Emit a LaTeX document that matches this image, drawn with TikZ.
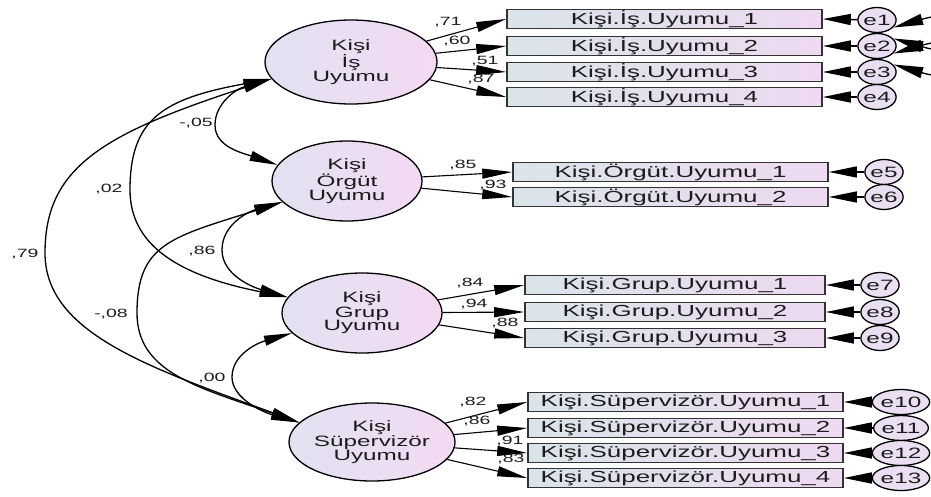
\documentclass[tikz,border=0pt]{standalone}
\usepackage{fontspec}
\setmainfont{Liberation Sans}[FakeStretch=1.62]
\usetikzlibrary{arrows.meta,shapes.geometric}
\definecolor{ellL}{HTML}{E2E1F2}
\definecolor{ellR}{HTML}{F3DAF3}
\definecolor{boxL}{HTML}{DAE4E9}
\definecolor{boxR}{HTML}{EEDAF1}
\definecolor{txt}{HTML}{1C1C1C}
\tikzset{
 latent/.style={ellipse, draw=black, line width=1.3pt, left color=ellL, right color=ellR,
   inner sep=0pt, align=center, font=\fontsize{15}{13.5}\selectfont, text=txt},
 ind/.style={rectangle, draw=black!80, line width=1.6pt, left color=boxL, right color=boxR,
   minimum height=19pt, inner sep=0pt, font=\fontsize{16}{17}\selectfont, text=txt},
 err/.style={ellipse, draw=black, line width=1.3pt, fill=ellL!50!ellR, minimum width=35pt,
   minimum height=25pt, inner sep=0pt, font=\fontsize{15}{15}\selectfont, text=txt},
 load/.style={-{Triangle[length=30pt,width=10pt]}, line width=1.1pt},
 errarr/.style={-{Triangle[length=28pt,width=11pt]}, line width=1.5pt},
 cov/.style={{Triangle[length=28pt,width=10pt]}-{Triangle[length=28pt,width=10pt]}, line width=1.3pt},
 ecov/.style={{Triangle[length=30pt,width=11pt]}-{Triangle[length=30pt,width=11pt]}, line width=1.3pt},
 lbl/.style={font=\fontsize{12}{12}\selectfont, text=txt, inner sep=0pt},
}
\begin{document}
\begin{tikzpicture}[x=1pt,y=-1pt]
\useasboundingbox[fill=white] (0,0) rectangle (931,496);

% latent variables
\node[latent, minimum width=172pt, minimum height=84pt] (L1) at (351,62) {Kişi\\İş\\Uyumu};
\node[latent, minimum width=150pt, minimum height=80pt] (L2) at (347,181) {Kişi\\Örgüt\\Uyumu};
\node[latent, minimum width=160pt, minimum height=80pt] (L3) at (362,313) {Kişi\\Grup\\Uyumu};
\node[latent, minimum width=166pt, minimum height=78pt] (L4) at (372,442) {Kişi\\Süpervizör\\Uyumu};

% indicators
\node[ind, minimum width=315pt] (i11) at (664.5,19) {Kişi.İş.Uyumu\_1};
\node[ind, minimum width=315pt] (i12) at (664.5,46) {Kişi.İş.Uyumu\_2};
\node[ind, minimum width=315pt] (i13) at (664.5,72) {Kişi.İş.Uyumu\_3};
\node[ind, minimum width=315pt] (i14) at (664.5,97) {Kişi.İş.Uyumu\_4};
\node[ind, minimum width=315pt] (i21) at (670.5,172) {Kişi.Örgüt.Uyumu\_1};
\node[ind, minimum width=315pt] (i22) at (670.5,197) {Kişi.Örgüt.Uyumu\_2};
\node[ind, minimum width=300pt] (i31) at (675,285) {Kişi.Grup.Uyumu\_1};
\node[ind, minimum width=300pt] (i32) at (675,312) {Kişi.Grup.Uyumu\_2};
\node[ind, minimum width=300pt] (i33) at (675,338) {Kişi.Grup.Uyumu\_3};
\node[ind, minimum width=315pt] (i41) at (685.5,402) {Kişi.Süpervizör.Uyumu\_1};
\node[ind, minimum width=315pt] (i42) at (685.5,428) {Kişi.Süpervizör.Uyumu\_2};
\node[ind, minimum width=315pt] (i43) at (685.5,453) {Kişi.Süpervizör.Uyumu\_3};
\node[ind, minimum width=315pt] (i44) at (685.5,478) {Kişi.Süpervizör.Uyumu\_4};

% errors
\node[err] (e1) at (877,20) {e1};
\node[err] (e2) at (877,46) {e2};
\node[err] (e3) at (877,72) {e3};
\node[err] (e4) at (877,97) {e4};
\node[err] (e5) at (884,172) {e5};
\node[err] (e6) at (884,197) {e6};
\node[err] (e7) at (880,285) {e7};
\node[err] (e8) at (880,312) {e8};
\node[err] (e9) at (880,338) {e9};
\node[err] (e10) at (901,402) {e10};
\node[err] (e11) at (901,428) {e11};
\node[err] (e12) at (901,453) {e12};
\node[err] (e13) at (901,478) {e13};

% loadings
\draw[load] (L1) -- (i11.west);
\draw[load] (L1) -- (i12.west);
\draw[load] (L1) -- (i13.west);
\draw[load] (L1) -- (i14.west);
\draw[load] (L2) -- (i21.west);
\draw[load] (L2) -- (i22.west);
\draw[load] (L3) -- (i31.west);
\draw[load] (L3) -- (i32.west);
\draw[load] (L3) -- (i33.west);
\draw[load] (L4) -- (i41.west);
\draw[load] (L4) -- (i42.west);
\draw[load] (L4) -- (i43.west);
\draw[load] (L4) -- (i44.west);

\node[lbl] (l11) at (448,22) {,71};
\node[lbl] (l12) at (457,41) {,60};
\node[lbl] (l13) at (485,61) {,51};
\node[lbl] (l14) at (481,79) {,87};
\node[lbl] (l21) at (463,165) {,85};
\node[lbl] (l22) at (493,185) {,93};
\node[lbl] (l31) at (470,283) {,84};
\node[lbl] (l32) at (474,304) {,94};
\node[lbl] (l33) at (505,323) {,88};
\node[lbl] (l41) at (473,402) {,82};
\node[lbl] (l42) at (477,421) {,86};
\node[lbl] (l43) at (510,441) {,91};
\node[lbl] (l44) at (511,459) {,83};

% error arrows
\foreach \e/\i in {e1/i11,e2/i12,e3/i13,e4/i14,e5/i21,e6/i22,e7/i31,e8/i32,e9/i33,e10/i41,e11/i42,e12/i43,e13/i44}
  \draw[errarr] (\e) -- (\i.east);

% error covariances (cut by the page edge)
\draw[ecov] (e1.-25) .. controls +(-16:110) and +(16:110) .. (e2.25);
\draw[ecov] (e2.-25) .. controls +(-16:110) and +(16:110) .. (e3.25);

% leftmost points of the covariance arcs
\coordinate (m05) at (215,125);
\coordinate (m02) at (130,190);
\coordinate (m79) at (45,253);
\coordinate (m86) at (222,250);
\coordinate (m08) at (137,313);
\coordinate (m00) at (232,377);

% latent covariances
\draw[cov] (L1.192) .. controls +(-35,10) and +(0,-22) .. (m05)
                    .. controls +(0,22) and +(-35,-12) .. (L2.167);
\draw[cov] (L1.192) .. controls +(-110,20) and +(0,-70) .. (m02)
                    .. controls +(0,60) and +(-100,-20) .. (L3.168);
\draw[cov] (L1.192) .. controls +(-170,55) and +(0,-85) .. (m79)
                    .. controls +(0,80) and +(-150,-55) .. (L4.165);
\draw[cov] (L2.198) .. controls +(-35,10) and +(0,-25) .. (m86)
                    .. controls +(0,25) and +(-35,-10) .. (L3.168);
\draw[cov] (L2.198) .. controls +(-110,35) and +(0,-70) .. (m08)
                    .. controls +(0,60) and +(-100,-35) .. (L4.165);
\draw[cov] (L3.196) .. controls +(-35,10) and +(0,-22) .. (m00)
                    .. controls +(0,22) and +(-35,-10) .. (L4.165);

\node[lbl] (c1) at (196,123) {-,05};
\node[lbl] (c2) at (109,189) {,02};
\node[lbl] (c3) at (25,254) {,79};
\node[lbl] (c4) at (202,251) {,86};
\node[lbl] (c5) at (111,314) {-,08};
\node[lbl] (c6) at (212,378) {,00};
\end{tikzpicture}
\end{document}
